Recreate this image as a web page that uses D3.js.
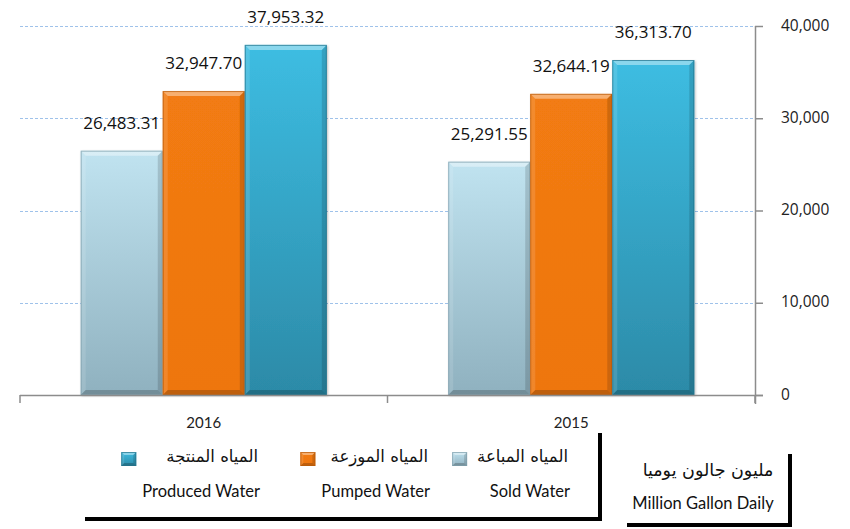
<!DOCTYPE html>
<html>
<head>
<meta charset="utf-8">
<script src="https://cdn.jsdelivr.net/npm/d3@7"></script>
<style>
  body { margin: 0; background: #fff; }
  svg { display: block; }
</style>
</head>
<body>
<svg id="chart" width="850" height="529"></svg>
<script>
const years = ['2016', '2015']
const seriesKeys = ['sold', 'pumped', 'produced']
const soldWater = [26483.31, 25291.55]
const pumpedWater = [32947.70, 32644.19]
const producedWater = [37953.32, 36313.70]
const yTicks = [0, 10000, 20000, 30000, 40000]
const legendArabic = ['المياه المباعة', 'المياه الموزعة', 'المياه المنتجة']
const legendEnglish = ['Sold Water', 'Pumped Water', 'Produced Water']
const unitArabic = 'مليون جالون يوميا'
const unitEnglish = 'Million Gallon Daily'

const values = { sold: soldWater, pumped: pumpedWater, produced: producedWater }
const data = years.flatMap((year, i) =>
  seriesKeys.map((key) => ({ year, key, value: values[key][i] }))
)

const colors = {
  sold: { top: '#c0e3f0', bottom: '#8fb1bf', edge: '#7f9eab' },
  pumped: { top: '#f27b12', bottom: '#ee760f', edge: '#b85a08' },
  produced: { top: '#3dbde2', bottom: '#2c8aa7', edge: '#23728a' },
}

const svgNode = document.getElementById('chart')
const svg = d3.select(svgNode)

const x0 = d3.scaleBand().domain(years).range([20, 755]).padding(0)
const x1 = d3
  .scaleBand()
  .domain(seriesKeys)
  .range([0, x0.bandwidth()])
  .paddingInner(0)
  .paddingOuter(0.74)
const y = d3.scaleLinear().domain([0, 40000]).range([395, 26])

// gradients
const defs = svg.append('defs')
seriesKeys.forEach((k) => {
  const g = defs
    .append('linearGradient')
    .attr('id', 'grad-' + k)
    .attr('x1', 0).attr('y1', 0).attr('x2', 0).attr('y2', 1)
  g.append('stop').attr('offset', '0%').attr('stop-color', colors[k].top)
  g.append('stop').attr('offset', '100%').attr('stop-color', colors[k].bottom)
})
defs
  .append('filter')
  .attr('id', 'shadow')
  .attr('x', '-10%').attr('y', '-10%').attr('width', '130%').attr('height', '130%')
  .append('feDropShadow')
  .attr('dx', 1).attr('dy', 1).attr('stdDeviation', 1.2)
  .attr('flood-color', '#000').attr('flood-opacity', 0.25)

// grid lines
svg
  .append('g')
  .attr('class', 'grid')
  .selectAll('line')
  .data(yTicks.filter((d) => d > 0))
  .join('line')
  .attr('x1', 20)
  .attr('x2', 755)
  .attr('y1', (d) => Math.round(y(d)) + 0.5)
  .attr('y2', (d) => Math.round(y(d)) + 0.5)
  .attr('stroke', '#9fc2ea')
  .attr('stroke-width', 1)
  .attr('stroke-dasharray', '3,2')

// bevel drawing helper
function bevel(sel, x, yTop, w, h, key, b) {
  sel
    .append('rect')
    .attr('x', x).attr('y', yTop).attr('width', w).attr('height', h)
    .attr('fill', `url(#grad-${key})`)
  const x2 = x + w
  const y2 = yTop + h
  const faces = [
    { p: [[x, yTop], [x2, yTop], [x2 - b, yTop + b], [x + b, yTop + b]], c: '#fff', o: 0.4 },
    { p: [[x, yTop], [x + b, yTop + b], [x + b, y2 - b], [x, y2]], c: '#fff', o: 0.12 },
    { p: [[x2, yTop], [x2, y2], [x2 - b, y2 - b], [x2 - b, yTop + b]], c: '#000', o: 0.14 },
    { p: [[x, y2], [x + b, y2 - b], [x2 - b, y2 - b], [x2, y2]], c: '#000', o: 0.2 },
  ]
  faces.forEach((f) => {
    sel
      .append('path')
      .attr('d', 'M' + f.p.map((q) => q.join(',')).join('L') + 'Z')
      .attr('fill', f.c)
      .attr('fill-opacity', f.o)
  })
  sel
    .append('rect')
    .attr('x', x + 0.5).attr('y', yTop + 0.5)
    .attr('width', w - 1).attr('height', h - 1)
    .attr('fill', 'none')
    .attr('stroke', colors[key].edge)
    .attr('stroke-opacity', 0.7)
}

// bars
const barsLayer = svg.append('g').attr('id', 'bars')
data.forEach((d) => {
  const bx = x0(d.year) + x1(d.key)
  const by = y(d.value)
  const g = barsLayer.append('g').attr('filter', 'url(#shadow)')
  bevel(g, bx, by, x1.bandwidth(), y(0) - by, d.key, 5)
})

// value labels
svg
  .append('g')
  .attr('id', 'labels')
  .selectAll('text')
  .data(data)
  .join('text')
  .attr('x', (d) => x0(d.year) + x1(d.key) + x1.bandwidth() / 2)
  .attr('y', (d) => y(d.value) - 22)
  .attr('text-anchor', 'middle')
  .style('font-family', '"Open Sans", sans-serif')
  .style('font-size', '17px')
  .style('fill', '#111')
  .text((d) => d3.format(',.2f')(d.value))

// x axis
const axisColor = '#8c8c8c'
const xAxis = svg.append('g').attr('id', 'x-axis')
xAxis
  .append('line')
  .attr('x1', 20).attr('x2', 763)
  .attr('y1', y(0) + 0.5).attr('y2', y(0) + 0.5)
  .attr('stroke', axisColor).attr('stroke-width', 1.5)
const xTickPos = [20, ...years.map((yr) => x0(yr) + x0.bandwidth())]
xAxis
  .selectAll('.tick')
  .data(xTickPos)
  .join('line')
  .attr('x1', (d) => d).attr('x2', (d) => d)
  .attr('y1', y(0)).attr('y2', y(0) + 8)
  .attr('stroke', axisColor).attr('stroke-width', 1.5)
xAxis
  .selectAll('text')
  .data(years)
  .join('text')
  .attr('x', (d) => x0(d) + x0.bandwidth() / 2)
  .attr('y', 428)
  .attr('text-anchor', 'middle')
  .style('font-family', 'Lato, sans-serif')
  .style('font-size', '15px')
  .style('fill', '#222')
  .text((d) => d)

// y axis (right side)
const yAxis = svg.append('g').attr('id', 'y-axis')
yAxis
  .append('line')
  .attr('x1', 755.5).attr('x2', 755.5)
  .attr('y1', y(40000)).attr('y2', y(0) + 9)
  .attr('stroke', axisColor).attr('stroke-width', 1.5)
yAxis
  .selectAll('.tick')
  .data(yTicks)
  .join('line')
  .attr('x1', 755).attr('x2', 763)
  .attr('y1', (d) => y(d) + 0.5).attr('y2', (d) => y(d) + 0.5)
  .attr('stroke', axisColor).attr('stroke-width', 1.5)
yAxis
  .selectAll('text')
  .data(yTicks)
  .join('text')
  .attr('x', 781)
  .attr('y', (d) => y(d))
  .attr('dy', '0.3em')
  .style('font-family', '"Open Sans", sans-serif')
  .style('font-size', '15.5px')
  .style('fill', '#222')
  .text((d) => d3.format(',')(d))

// legend
const legendRight = [568, 428, 258]
const legendLayer = svg.append('g').attr('id', 'legend')
seriesKeys.forEach((k, i) => {
  const item = legendLayer.append('g')
  const ar = item
    .append('text')
    .attr('x', legendRight[i])
    .attr('y', 462)
    .attr('text-anchor', 'end')
    .style('font-family', '"DejaVu Sans", sans-serif')
    .style('font-size', '16.5px')
    .style('fill', '#111')
    .text(legendArabic[i])
  const en = item
    .append('text')
    .attr('x', legendRight[i] + 2)
    .attr('y', 497)
    .attr('text-anchor', 'end')
    .style('font-family', 'Lato, sans-serif')
    .style('font-size', '16.5px')
    .style('fill', '#111')
    .text(legendEnglish[i])
  const enLeft = legendRight[i] + 2 - en.node().getComputedTextLength()
  const arLeft = legendRight[i] - ar.node().getComputedTextLength()
  const ix = Math.min(enLeft - 6, arLeft - 10) - 15
  bevel(item.append('g'), ix, 452, 15, 14, k, 3)
})

// legend frame (right + bottom)
legendLayer
  .append('path')
  .attr('d', 'M85,519 L600,519 L600,433')
  .attr('fill', 'none')
  .attr('stroke', '#000')
  .attr('stroke-width', 4)

// unit box
const unit = svg.append('g').attr('id', 'unit')
unit
  .append('text')
  .attr('x', 708).attr('y', 476)
  .attr('text-anchor', 'middle')
  .style('font-family', '"DejaVu Sans", sans-serif')
  .style('font-size', '17.5px')
  .style('fill', '#111')
  .text(unitArabic)
unit
  .append('text')
  .attr('x', 703).attr('y', 509)
  .attr('text-anchor', 'middle')
  .style('font-family', 'Lato, sans-serif')
  .style('font-size', '16.5px')
  .style('fill', '#111')
  .text(unitEnglish)
unit
  .append('path')
  .attr('d', 'M627,525 L790,525 L790,454')
  .attr('fill', 'none')
  .attr('stroke', '#000')
  .attr('stroke-width', 4)
</script>
</body>
</html>
